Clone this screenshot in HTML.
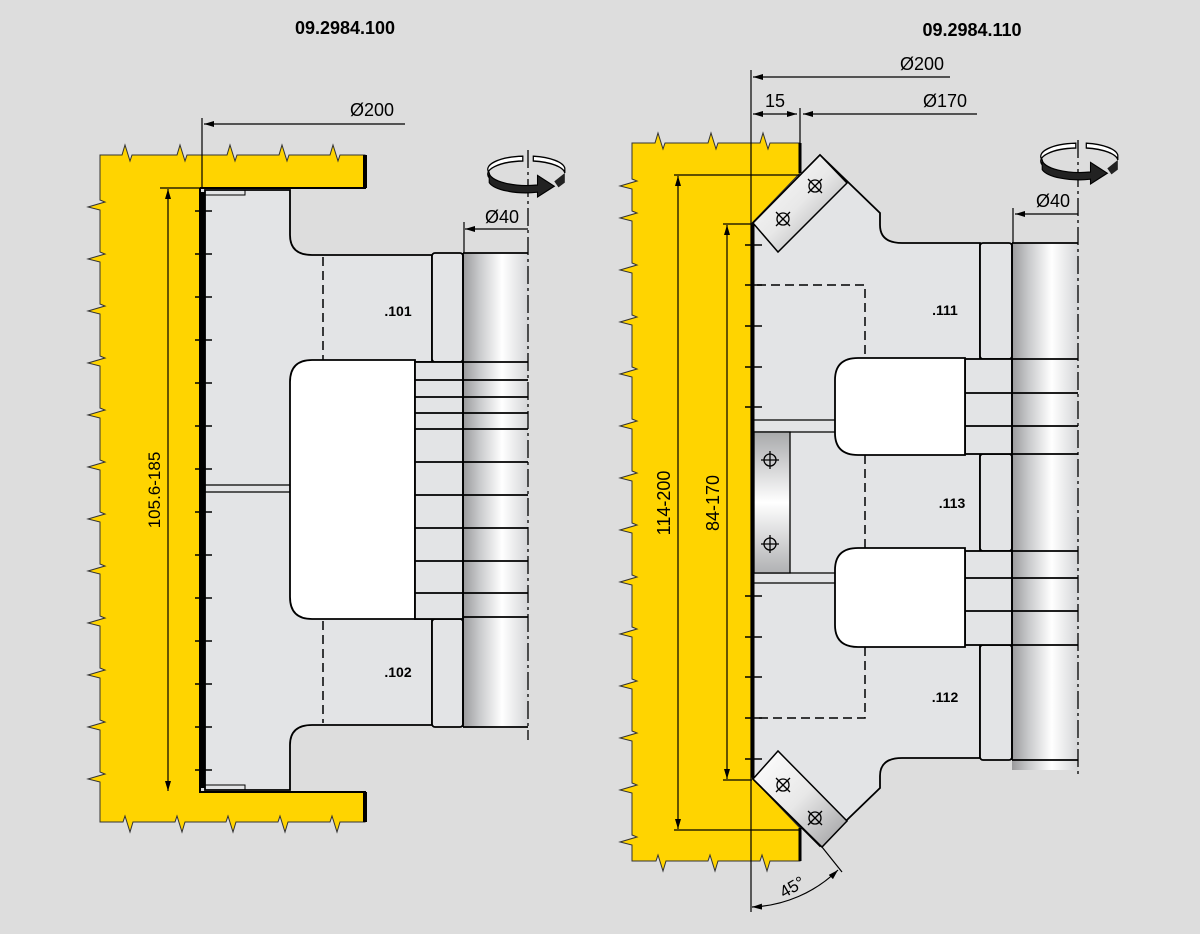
<!DOCTYPE html>
<html><head><meta charset="utf-8"><style>
html,body{margin:0;padding:0;background:#dddddd;}
svg{display:block;font-family:"Liberation Sans",Arial,sans-serif;}
</style></head><body>
<svg width="1200" height="934" viewBox="0 0 1200 934" xmlns="http://www.w3.org/2000/svg">
<defs>
<linearGradient id="sh" x1="0" x2="1" y1="0" y2="0">
<stop offset="0" stop-color="#9a9a9c"/><stop offset="0.25" stop-color="#c8c9cb"/><stop offset="0.6" stop-color="#ffffff"/><stop offset="1" stop-color="#d5d6d8"/>
</linearGradient>
<linearGradient id="pl" x1="0" x2="0" y1="0" y2="1">
<stop offset="0" stop-color="#a8a9ab"/><stop offset="0.5" stop-color="#ffffff"/><stop offset="1" stop-color="#b0b1b3"/>
</linearGradient>
<linearGradient id="pl2" x1="0" x2="1" y1="0" y2="1">
<stop offset="0" stop-color="#ffffff"/><stop offset="0.5" stop-color="#e8e8e8"/><stop offset="1" stop-color="#9c9c9e"/>
</linearGradient>
<marker id="ar" viewBox="0 0 10 6" refX="10" refY="3" markerWidth="10" markerHeight="6" orient="auto-start-reverse" markerUnits="userSpaceOnUse"><path d="M0,0 L10,3 L0,6 Z" fill="#000"/></marker>
<g id="rot">
<path d="M-4,-14 A36,11 0 0 0 -36,0 L-36,4 A36,11 0 0 1 -4,-10 Z" fill="#fff" stroke="#000" stroke-width="1.2"/>
<path d="M6,-14 A36,11 0 0 1 36,-4 L36,0 A36,11 0 0 0 6,-10 Z" fill="#fff" stroke="#000" stroke-width="1.2"/>
<path d="M-36,0 A36,11 0 0 0 10,10 L10,2 L26,11 L10,20 L10,16 A36,11 0 0 1 -36,8 Z" fill="#222" stroke="#000"/>
<path d="M26,7 L36,0 L36,8 L30,12 Z" fill="#222"/>
</g>
</defs>
<rect width="1200" height="934" fill="#dddddd"/>

<text x="345" y="34" font-size="18" font-weight="bold" text-anchor="middle">09.2984.100</text>
<text x="972" y="36" font-size="18" font-weight="bold" text-anchor="middle">09.2984.110</text>

<!-- ============ LEFT ============ -->
<path d="M100,155 H122 l3,-10 l5,16 l2,-6 H177 l3,-10 l5,16 l2,-6 H227 l3,-10 l5,16 l2,-6 H279 l3,-10 l5,16 l2,-6 H330 l3,-10 l5,16 l2,-6 H365 V188 H200 V792 H365 V822 H340 l-3,10 l-5,-16 l-2,6 H288 l-3,10 l-5,-16 l-2,6 H236 l-3,10 l-5,-16 l-2,6 H185 l-3,10 l-5,-16 l-2,6 H133 l-3,10 l-5,-16 l-2,6 H100
V782 l-12,-3 l17,-5 l-5,-2 V730 l-12,-3 l17,-5 l-5,-2 V678 l-12,-3 l17,-5 l-5,-2 V626 l-12,-3 l17,-5 l-5,-2 V574 l-12,-3 l17,-5 l-5,-2 V522 l-12,-3 l17,-5 l-5,-2 V470 l-12,-3 l17,-5 l-5,-2 V418 l-12,-3 l17,-5 l-5,-2 V366 l-12,-3 l17,-5 l-5,-2 V314 l-12,-3 l17,-5 l-5,-2 V262 l-12,-3 l17,-5 l-5,-2 V210 l-12,-3 l17,-5 l-5,-2 Z" fill="#ffd400" stroke="#333" stroke-width="1"/>
<path d="M200,188 H365 V155 M200,188 V792 H365 V822" fill="none" stroke="#000" stroke-width="2"/>
<line x1="365" y1="155" x2="365" y2="188" stroke="#000" stroke-width="4"/>
<line x1="365" y1="792" x2="365" y2="822" stroke="#000" stroke-width="4"/>

<rect x="463" y="253" width="65" height="475" fill="url(#sh)"/>
<path d="M205,190 H290 V235 Q290,255 312,255 H432 V362 H415 V619 H432 V725 H312 Q290,725 290,745 V790 H205 Z" fill="#e3e4e6" stroke="#000" stroke-width="1.8"/>
<path d="M205,190 H245 V195 H205" fill="none" stroke="#000" stroke-width="1"/>
<path d="M205,790 H245 V785 H205" fill="none" stroke="#000" stroke-width="1"/>
<rect x="432" y="253" width="31" height="109" rx="3" fill="#e3e4e6" stroke="#000" stroke-width="1.8"/>
<rect x="432" y="619" width="31" height="108" rx="3" fill="#e3e4e6" stroke="#000" stroke-width="1.8"/>
<path d="M205,485 H290 M205,492 H290" stroke="#000" stroke-width="1.2"/>
<path d="M290,382 Q290,360 312,360 H415 V619 H312 Q290,619 290,597 Z" fill="#fff" stroke="#000" stroke-width="1.8"/>
<rect x="415" y="362" width="48" height="257" fill="#e3e4e6" stroke="#000" stroke-width="1.8"/>
<g stroke="#000" stroke-width="1.8">
<line x1="415" y1="380" x2="528" y2="380"/><line x1="415" y1="397" x2="528" y2="397"/><line x1="415" y1="413" x2="528" y2="413"/><line x1="415" y1="429" x2="528" y2="429"/><line x1="415" y1="462" x2="528" y2="462"/><line x1="415" y1="495" x2="528" y2="495"/><line x1="415" y1="528" x2="528" y2="528"/><line x1="415" y1="561" x2="528" y2="561"/><line x1="415" y1="593" x2="528" y2="593"/>
<line x1="463" y1="253" x2="528" y2="253"/><line x1="463" y1="362" x2="528" y2="362"/><line x1="463" y1="617" x2="528" y2="617"/><line x1="463" y1="727" x2="528" y2="727"/>
<line x1="463" y1="253" x2="463" y2="727"/>
</g>
<g stroke="#000" stroke-width="1.5" stroke-dasharray="9,5"><line x1="323" y1="257" x2="323" y2="360"/><line x1="323" y1="621" x2="323" y2="723"/></g>
<text x="398" y="316" font-size="14" font-weight="bold" text-anchor="middle">.101</text>
<text x="398" y="677" font-size="14" font-weight="bold" text-anchor="middle">.102</text>
<g stroke="#000" stroke-width="1.5">
<line x1="195" y1="211" x2="212" y2="211"/><line x1="195" y1="254" x2="212" y2="254"/><line x1="195" y1="297" x2="212" y2="297"/><line x1="195" y1="340" x2="212" y2="340"/><line x1="195" y1="383" x2="212" y2="383"/><line x1="195" y1="426" x2="212" y2="426"/><line x1="195" y1="469" x2="212" y2="469"/><line x1="195" y1="512" x2="212" y2="512"/><line x1="195" y1="555" x2="212" y2="555"/><line x1="195" y1="598" x2="212" y2="598"/><line x1="195" y1="641" x2="212" y2="641"/><line x1="195" y1="684" x2="212" y2="684"/><line x1="195" y1="727" x2="212" y2="727"/><line x1="195" y1="770" x2="212" y2="770"/>
</g>
<line x1="203" y1="192" x2="203" y2="788" stroke="#000" stroke-width="4"/>
<line x1="168" y1="189" x2="168" y2="791" stroke="#000" stroke-width="1.2" marker-start="url(#ar)" marker-end="url(#ar)"/>
<line x1="160" y1="188" x2="200" y2="188" stroke="#000" stroke-width="1.2"/>
<text transform="translate(160,490) rotate(-90)" font-size="17" text-anchor="middle">105.6-185</text>
<line x1="202" y1="118" x2="202" y2="188" stroke="#000" stroke-width="1.2"/>
<line x1="204" y1="124" x2="405" y2="124" stroke="#000" stroke-width="1.2" marker-start="url(#ar)"/>
<text x="372" y="116" font-size="18" text-anchor="middle">Ø200</text>
<line x1="528" y1="150" x2="528" y2="740" stroke="#000" stroke-width="1.3" stroke-dasharray="18,4,3,4"/>
<line x1="465" y1="229" x2="528" y2="229" stroke="#000" stroke-width="1.2" marker-start="url(#ar)"/>
<line x1="464" y1="222" x2="464" y2="253" stroke="#000" stroke-width="1.2"/>
<text x="502" y="223" font-size="18" text-anchor="middle">Ø40</text>
<use href="#rot" transform="translate(527,173) scale(1.05,1.2)"/>

<!-- ============ RIGHT ============ -->
<path d="M632,143 H655 l3,-10 l5,16 l2,-6 H708 l3,-10 l5,16 l2,-6 H760 l3,-10 l5,16 l2,-6 H800 V173 L752,223 V778 L800,828 V861 H770 l-3,10 l-5,-16 l-2,6 H718 l-3,10 l-5,-16 l-2,6 H666 l-3,10 l-5,-16 l-2,6 H632
V845 l-12,-3 l17,-5 l-5,-2 V793 l-12,-3 l17,-5 l-5,-2 V741 l-12,-3 l17,-5 l-5,-2 V689 l-12,-3 l17,-5 l-5,-2 V637 l-12,-3 l17,-5 l-5,-2 V585 l-12,-3 l17,-5 l-5,-2 V533 l-12,-3 l17,-5 l-5,-2 V481 l-12,-3 l17,-5 l-5,-2 V429 l-12,-3 l17,-5 l-5,-2 V377 l-12,-3 l17,-5 l-5,-2 V325 l-12,-3 l17,-5 l-5,-2 V273 l-12,-3 l17,-5 l-5,-2 V221 l-12,-3 l17,-5 l-5,-2 V189 l-12,-3 l17,-5 l-5,-2 Z" fill="#ffd400" stroke="#333" stroke-width="1"/>
<line x1="800" y1="143" x2="800" y2="173" stroke="#000" stroke-width="3"/>
<line x1="800" y1="828" x2="800" y2="861" stroke="#000" stroke-width="3"/>
<rect x="1012" y="243" width="66" height="527" fill="url(#sh)"/>
<path d="M753,223 L820,155 L880,213 V225 Q880,243 902,243 H980 V758 H902 Q880,758 880,776 V788 L820,846 L753,779 Z" fill="#e3e4e6" stroke="#000" stroke-width="1.8"/>
<rect x="980" y="243" width="32" height="116" rx="3" fill="#e3e4e6" stroke="#000" stroke-width="1.8"/>
<rect x="980" y="454" width="32" height="97" rx="3" fill="#e3e4e6" stroke="#000" stroke-width="1.8"/>
<rect x="980" y="645" width="32" height="115" rx="3" fill="#e3e4e6" stroke="#000" stroke-width="1.8"/>
<rect x="965" y="359" width="47" height="95" fill="#e3e4e6" stroke="#000" stroke-width="1.8"/>
<rect x="965" y="551" width="47" height="94" fill="#e3e4e6" stroke="#000" stroke-width="1.8"/>
<g stroke="#000" stroke-width="1.8">
<line x1="965" y1="393" x2="1078" y2="393"/><line x1="965" y1="426" x2="1078" y2="426"/>
<line x1="965" y1="578" x2="1078" y2="578"/><line x1="965" y1="611" x2="1078" y2="611"/>
<line x1="1012" y1="243" x2="1078" y2="243"/><line x1="1012" y1="359" x2="1078" y2="359"/><line x1="1012" y1="454" x2="1078" y2="454"/><line x1="1012" y1="551" x2="1078" y2="551"/><line x1="1012" y1="645" x2="1078" y2="645"/><line x1="1012" y1="760" x2="1078" y2="760"/>
<line x1="1012" y1="243" x2="1012" y2="760"/>
</g>
<path d="M835,380 Q835,358 858,358 H965 V455 H858 Q835,455 835,433 Z" fill="#fff" stroke="#000" stroke-width="1.8"/>
<path d="M835,570 Q835,548 858,548 H965 V647 H858 Q835,647 835,625 Z" fill="#fff" stroke="#000" stroke-width="1.8"/>
<path d="M757,285 H865 V358 M865,455 V548 M865,647 V718 H757" fill="none" stroke="#000" stroke-width="1.5" stroke-dasharray="9,5"/>
<path d="M754,420 H835 M754,432 H835 M754,573 H835 M754,583 H835" stroke="#000" stroke-width="1.3"/>
<rect x="754" y="432" width="36" height="141" fill="url(#pl)" stroke="#000" stroke-width="1.3"/>
<g stroke="#000" stroke-width="1.3" fill="none">
<circle cx="770" cy="460" r="6"/><line x1="761" y1="460" x2="779" y2="460"/><line x1="770" y1="451" x2="770" y2="469"/>
<circle cx="770" cy="544" r="6"/><line x1="761" y1="544" x2="779" y2="544"/><line x1="770" y1="535" x2="770" y2="553"/>
</g>
<polygon points="753,223 820,155 847,183 778,252" fill="url(#pl2)" stroke="#000" stroke-width="1.5"/>
<polygon points="753,779 778,751 847,821 822,847" fill="url(#pl2)" stroke="#000" stroke-width="1.5"/>
<g stroke="#000" stroke-width="1.3" fill="none">
<circle cx="815" cy="186" r="6"/><path d="M808,179 L822,193 M822,179 L808,193"/>
<circle cx="783" cy="219" r="6"/><path d="M776,212 L790,226 M790,212 L776,226"/>
<circle cx="783" cy="785" r="6"/><path d="M776,778 L790,792 M790,778 L776,792"/>
<circle cx="815" cy="818" r="6"/><path d="M808,811 L822,825 M822,811 L808,825"/>
</g>
<text x="945" y="315" font-size="14" font-weight="bold" text-anchor="middle">.111</text>
<text x="952" y="508" font-size="14" font-weight="bold" text-anchor="middle">.113</text>
<text x="945" y="702" font-size="14" font-weight="bold" text-anchor="middle">.112</text>
<g stroke="#000" stroke-width="1.5">
<line x1="745" y1="245" x2="762" y2="245"/><line x1="745" y1="285" x2="762" y2="285"/><line x1="745" y1="326" x2="762" y2="326"/><line x1="745" y1="367" x2="762" y2="367"/><line x1="745" y1="407" x2="762" y2="407"/>
<line x1="745" y1="596" x2="762" y2="596"/><line x1="745" y1="637" x2="762" y2="637"/><line x1="745" y1="677" x2="762" y2="677"/><line x1="745" y1="718" x2="762" y2="718"/><line x1="745" y1="759" x2="762" y2="759"/>
</g>
<line x1="753" y1="225" x2="753" y2="777" stroke="#000" stroke-width="3"/>
<line x1="751" y1="70" x2="751" y2="912" stroke="#000" stroke-width="1.2"/>
<line x1="753" y1="77" x2="950" y2="77" stroke="#000" stroke-width="1.2" marker-start="url(#ar)"/>
<text x="922" y="70" font-size="18" text-anchor="middle">Ø200</text>
<line x1="753" y1="114" x2="797" y2="114" stroke="#000" stroke-width="1.2" marker-start="url(#ar)" marker-end="url(#ar)"/>
<line x1="800" y1="108" x2="800" y2="143" stroke="#000" stroke-width="1.2"/>
<line x1="803" y1="114" x2="977" y2="114" stroke="#000" stroke-width="1.2" marker-start="url(#ar)"/>
<text x="775" y="107" font-size="18" text-anchor="middle">15</text>
<text x="945" y="107" font-size="18" text-anchor="middle">Ø170</text>
<line x1="674" y1="175" x2="800" y2="175" stroke="#000" stroke-width="1.2"/>
<line x1="674" y1="830" x2="800" y2="830" stroke="#000" stroke-width="1.2"/>
<line x1="678" y1="176" x2="678" y2="829" stroke="#000" stroke-width="1.2" marker-start="url(#ar)" marker-end="url(#ar)"/>
<text transform="translate(670,503) rotate(-90)" font-size="18" text-anchor="middle">114-200</text>
<line x1="723" y1="224" x2="752" y2="224" stroke="#000" stroke-width="1.2"/>
<line x1="723" y1="780" x2="752" y2="780" stroke="#000" stroke-width="1.2"/>
<line x1="727" y1="225" x2="727" y2="779" stroke="#000" stroke-width="1.2" marker-start="url(#ar)" marker-end="url(#ar)"/>
<text transform="translate(719,503) rotate(-90)" font-size="18" text-anchor="middle">84-170</text>
<line x1="822" y1="847" x2="842" y2="872" stroke="#000" stroke-width="1.2"/>
<path d="M752,907 A130,130 0 0 0 838,870" fill="none" stroke="#000" stroke-width="1.2" marker-start="url(#ar)" marker-end="url(#ar)"/>
<text transform="translate(795,892) rotate(-30)" font-size="17" text-anchor="middle">45°</text>
<line x1="1078" y1="140" x2="1078" y2="775" stroke="#000" stroke-width="1.3" stroke-dasharray="18,4,3,4"/>
<line x1="1015" y1="214" x2="1078" y2="214" stroke="#000" stroke-width="1.2" marker-start="url(#ar)"/>
<line x1="1013" y1="208" x2="1013" y2="243" stroke="#000" stroke-width="1.2"/>
<text x="1053" y="207" font-size="18" text-anchor="middle">Ø40</text>
<use href="#rot" transform="translate(1080,160) scale(1.05,1.2)"/>
</svg>
</body></html>
